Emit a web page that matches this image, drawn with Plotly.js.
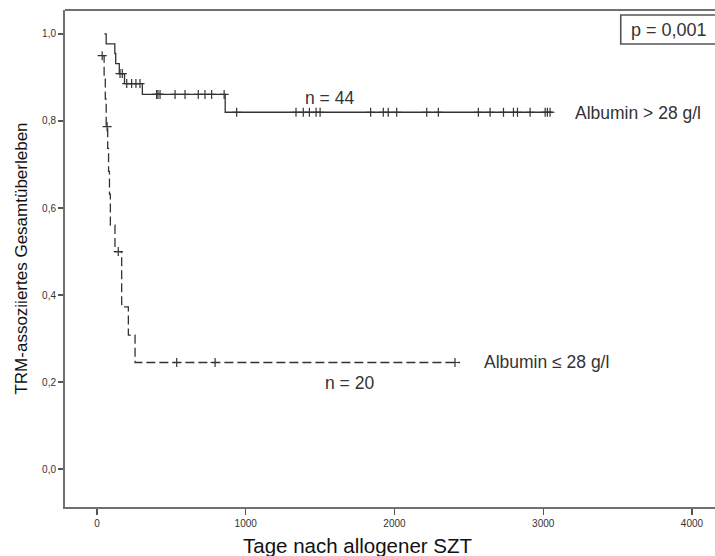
<!DOCTYPE html>
<html>
<head>
<meta charset="utf-8">
<script src="https://cdn.plot.ly/plotly-3.0.1.min.js"></script>
<style>html,body{margin:0;padding:0;background:#fff;}#chart{width:715px;height:556px;}</style>
</head>
<body>
<div id="chart"></div>
<script>
// Albumin > 28 g/l (n = 44): Kaplan-Meier step points
const upperTimes = [50, 62, 120, 126, 150, 185, 305, 862, 3066];
const upperSurv  = [1.0, 0.977, 0.955, 0.932, 0.909, 0.886, 0.861, 0.820, 0.820];
// censored cases, upper group
const upperCensTimes = [155, 170, 200, 233, 262, 289, 401, 410, 424, 525, 592, 681, 726, 771, 855,
  939, 1338, 1387, 1428, 1473, 1500, 1840, 1925, 1958, 2015, 2217, 2295,
  2564, 2643, 2733, 2800, 2827, 2912, 3013, 3028, 3046];
const upperCensSurv = [0.909, 0.909, 0.886, 0.886, 0.886, 0.886, 0.861, 0.861, 0.861, 0.861, 0.861, 0.861, 0.861, 0.861, 0.861,
  0.820, 0.820, 0.820, 0.820, 0.820, 0.820, 0.820, 0.820, 0.820, 0.820, 0.820, 0.820,
  0.820, 0.820, 0.820, 0.820, 0.820, 0.820, 0.820, 0.820, 0.820];

// Albumin <= 28 g/l (n = 20)
const lowerTimes = [35, 48, 56, 62, 72, 78, 84, 90, 121, 166, 211, 256, 2440];
const lowerSurv  = [0.95, 0.90, 0.85, 0.787, 0.737, 0.684, 0.632, 0.561, 0.50, 0.373, 0.308, 0.245, 0.245];
const lowerCensTimes = [35, 68, 143, 536, 794, 2407];
const lowerCensSurv  = [0.95, 0.787, 0.50, 0.245, 0.245, 0.245];

const xTickVals = [0, 1000, 2000, 3000, 4000];
const xTickText = ['0', '1000', '2000', '3000', '4000'];
const yTickVals = [0, 0.2, 0.4, 0.6, 0.8, 1.0];
const yTickText = ['0,0', '0,2', '0,4', '0,6', '0,8', '1,0'];

const FONT = 'Arial, "Liberation Sans", sans-serif';
const INK = '#333333';

const censMarker = {symbol: 'cross-thin', size: 6.5, line: {color: INK, width: 1.2}};

const traces = [
  {x: upperTimes, y: upperSurv, mode: 'lines', line: {shape: 'hv', color: INK, width: 1.3}, hoverinfo: 'skip'},
  {x: upperCensTimes, y: upperCensSurv, mode: 'markers', marker: censMarker, hoverinfo: 'skip'},
  {x: lowerTimes, y: lowerSurv, mode: 'lines', line: {shape: 'hv', color: INK, width: 1.3, dash: '9px,4px'}, hoverinfo: 'skip'},
  {x: lowerCensTimes, y: lowerCensSurv, mode: 'markers', marker: censMarker, hoverinfo: 'skip'}
];

const layout = {
  width: 715, height: 556,
  margin: {l: 65, r: 0, t: 10, b: 49},
  paper_bgcolor: '#fff', plot_bgcolor: '#fff',
  showlegend: false,
  font: {family: FONT, color: INK},
  xaxis: {
    range: [-215, 4155], showgrid: false, zeroline: false,
    showline: true, linecolor: '#707070', linewidth: 2,
    ticks: 'outside', ticklen: 6, tickwidth: 1.3, tickcolor: '#555',
    tickvals: xTickVals, ticktext: xTickText,
    tickfont: {size: 10, color: '#333', family: FONT}
  },
  yaxis: {
    range: [-0.087, 1.055], showgrid: false, zeroline: false,
    showline: true, linecolor: '#707070', linewidth: 2,
    ticks: 'outside', ticklen: 5, tickwidth: 1.3, tickcolor: '#555',
    tickvals: yTickVals, ticktext: yTickText,
    tickfont: {size: 10, color: '#333', family: FONT},
    title: {text: 'TRM-assoziiertes Gesamtüberleben', font: {size: 17, color: '#111', family: FONT}, standoff: 10}
  },
  shapes: [
    {type: 'line', xref: 'paper', yref: 'paper', x0: 0, x1: 1.01, y0: 1, y1: 1, line: {color: '#707070', width: 2}},
    {type: 'rect', xref: 'paper', yref: 'paper', x0: 0.855, x1: 1.02, y0: 0.9316, y1: 0.99, fillcolor: '#fff', line: {color: '#555', width: 1.6}}
  ],
  annotations: [
    {xref: 'paper', yref: 'paper', x: 0.451, y: -0.077, yanchor: 'middle', xanchor: 'center', showarrow: false,
     text: 'Tage nach allogener SZT', font: {size: 20.5, color: '#111', family: FONT}},
    {xref: 'paper', yref: 'paper', x: 0.9285, y: 0.960, xanchor: 'center', yanchor: 'middle', showarrow: false,
     text: 'p = 0,001', font: {size: 18, color: INK, family: FONT}},
    {x: 1566, y: 0.853, xanchor: 'center', yanchor: 'middle', showarrow: false, text: 'n = 44', font: {size: 17.5, color: INK}},
    {x: 3200, y: 0.818, xanchor: 'left', yanchor: 'middle', showarrow: false, text: 'Albumin > 28 g/l', font: {size: 17.5, color: INK}},
    {x: 2588, y: 0.246, xanchor: 'left', yanchor: 'middle', showarrow: false, text: 'Albumin ≤ 28 g/l', font: {size: 17.5, color: INK}},
    {x: 1700, y: 0.198, xanchor: 'center', yanchor: 'middle', showarrow: false, text: 'n = 20', font: {size: 17.5, color: INK}}
  ]
};

Plotly.newPlot('chart', traces, layout, {staticPlot: true, displayModeBar: false});
</script>
</body>
</html>
